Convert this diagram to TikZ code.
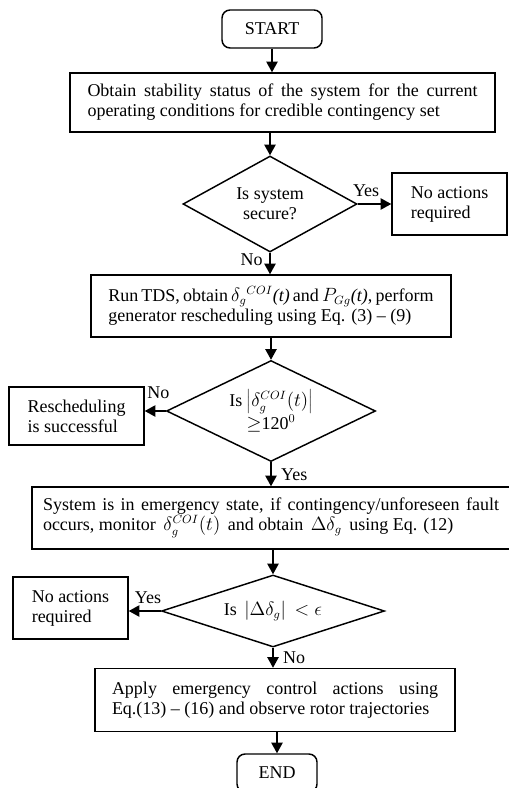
\documentclass[tikz,border=0pt]{standalone}
\usepackage{fontspec}
\setmainfont{Liberation Serif}
\usetikzlibrary{shapes.geometric,arrows.meta}
\begin{document}
\begin{tikzpicture}[x=0.75pt,y=-0.75pt,
every node/.style={font=\fontsize{13.5pt}{15pt}\selectfont},
terminal/.style={draw,line width=1.1pt,rounded corners=6pt,minimum height=28.5pt,inner sep=0pt},
process/.style={draw,line width=1.1pt,inner sep=0pt},
decision/.style={draw,diamond,line width=1.1pt,align=center,inner sep=0pt},
arr/.style={line width=1.1pt,-{Triangle[length=8pt,width=8.5pt]}},
lbl/.style={inner sep=1pt}]
\useasboundingbox (0,0) rectangle (508,788);
\node[terminal,minimum width=75pt](start) at (272,29) {START};
\node[process,minimum width=318.75pt,minimum height=44.25pt,text width=292.5pt,align=justify](obtain) at (282.5,102.5)
{Obtain stability status of the system for the current\linebreak operating conditions for credible contingency set};
\node[decision,aspect=1.8,minimum width=130.5pt,minimum height=72pt](secure) at (270,204) {Is system\\secure?};
\node[process,minimum width=86.25pt,minimum height=46.5pt,align=left](noact1) at (449.5,204) {No actions\\required};
\node[process,minimum width=270pt,minimum height=46.5pt,text width=244pt,align=justify](tds) at (271,306)
{Run TDS, obtain $\delta_g{}^{COI}$\textit{(t)} and $P_{Gg}$\textit{(t)}, perform\linebreak generator rescheduling using Eq. (3) -- (9)};
\node[decision,aspect=2,minimum width=156.75pt,minimum height=75.75pt](check2) at (271,411)
{Is $\left|\delta_g^{COI}(t)\right|$\\$\geq$120$^0$};
\node[process,minimum width=101.25pt,minimum height=43.5pt,align=left](resched) at (76.5,416) {Rescheduling\\is successful};
\node[process,minimum width=358.5pt,minimum height=46.5pt,text width=342pt,align=justify](emerg) at (271,518)
{System is in emergency state, if contingency/unforeseen fault\linebreak occurs, monitor \,$\delta_g^{COI}(t)$\, and obtain \,$\Delta\delta_g$\, using Eq. (12)};
\node[decision,aspect=3,minimum width=167.25pt,minimum height=54pt](check3) at (273,611)
{Is \,$\left|\Delta\delta_g\right|\,<\epsilon$};
\node[process,minimum width=86.25pt,minimum height=46.5pt,align=left](noact2) at (70.5,608) {No actions\\required};
\node[process,minimum width=270pt,minimum height=47.25pt,text width=244.5pt,align=justify](apply) at (275,700)
{Apply emergency control actions using\linebreak Eq.(13) -- (16) and observe rotor trajectories};
\node[terminal,minimum width=60pt](finish) at (277,773) {END};
\draw[arr](start.south)--(start.south|-obtain.north);
\draw[arr](obtain.south-|secure.north)--(secure.north);
\draw[arr](secure.east)--node[lbl,above=4pt,pos=0.25](yes1){Yes}(noact1.west);
\draw[arr](secure.south)--node[lbl,left=4pt,pos=0.3](no1){No}(secure.south|-tds.north);
\draw[arr](tds.south-|check2.north)--(check2.north);
\draw[arr](check2.west)--node[lbl,above=8pt,pos=0.35](no2){No}(check2.west-|resched.east);
\draw[arr](check2.south)--node[lbl,right=6pt](yes2){Yes}(check2.south|-emerg.north);
\draw[arr](emerg.south-|check3.north)--(check3.north);
\draw[arr](check3.west)--node[lbl,above=4pt,pos=0.4](yes3){Yes}(check3.west-|noact2.east);
\draw[arr](check3.south)--node[lbl,right=6pt](no3){No}(check3.south|-apply.north);
\draw[arr](apply.south-|finish.north)--(finish.north);
\end{tikzpicture}
\end{document}
